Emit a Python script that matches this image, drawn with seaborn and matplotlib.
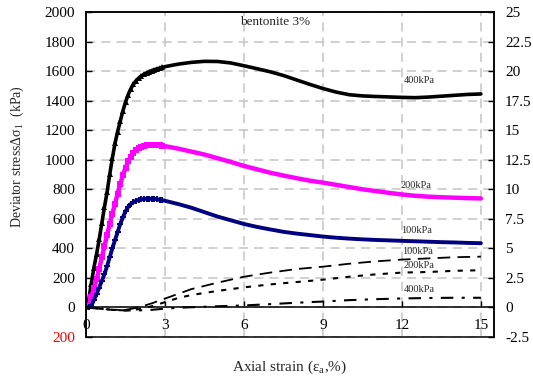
import numpy as np
import pandas as pd
import matplotlib
matplotlib.use("Agg")
import matplotlib.pyplot as plt
from matplotlib.ticker import FixedLocator, FixedFormatter
import seaborn as sns

# ---- deviator stress curves (axial strain %, kPa) ----
strain_q = [0.0, 0.1, 0.2, 0.3, 0.4, 0.5, 0.6, 0.7, 0.8, 0.9,
            1.0, 1.1, 1.2, 1.3, 1.4, 1.5, 1.6, 1.7, 1.8, 1.9,
            2.0, 2.1, 2.2, 2.3, 2.4, 2.5, 2.6, 2.7, 2.8, 2.9,
            3.0, 3.5, 4.0, 4.5, 5.0, 5.5, 6.0, 6.5, 7.0, 7.5,
            8.0, 8.5, 9.0, 9.5, 10.0, 10.5, 11.0, 11.5, 12.0, 12.5,
            13.0, 13.5, 14.0, 14.5, 15.0]
q_400 = [0, 50, 160, 270, 360, 460, 570, 680, 780, 900,
         1010, 1110, 1190, 1260, 1330, 1390, 1440, 1480, 1510, 1535,
         1552, 1566, 1578, 1588, 1596, 1603, 1609, 1615, 1620, 1625,
         1630, 1647, 1659, 1666, 1665, 1655, 1636, 1616, 1595, 1570,
         1540, 1510, 1482, 1458, 1440, 1432, 1428, 1425, 1422, 1420,
         1424, 1430, 1436, 1442, 1445]
q_200 = [0, 10, 70, 130, 190, 260, 340, 415, 490, 565,
         635, 700, 770, 835, 895, 945, 988, 1020, 1045, 1063,
         1077, 1087, 1093, 1097, 1099, 1100, 1100, 1099, 1097, 1095,
         1092, 1075, 1055, 1035, 1010, 985, 958, 935, 912, 893,
         875, 858, 845, 830, 815, 800, 788, 776, 765, 756,
         750, 746, 743, 740, 738]
q_100 = [0, 0, 10, 50, 90, 135, 180, 225, 280, 340,
         400, 455, 510, 565, 610, 650, 680, 700, 713, 722,
         728, 732, 734, 735, 735, 735, 734, 732, 729, 726,
         722, 700, 675, 645, 615, 590, 565, 545, 528, 512,
         500, 490, 480, 472, 466, 461, 457, 454, 451, 448,
         445, 442, 440, 437, 435]
n_marked = 30  # markers on the loading branch

# ---- volumetric strain curves (axial strain %, %) ----
strain_v = [0.0, 0.5, 1.0, 1.5, 2.0, 2.5, 3.0, 3.5, 4.0, 5.0,
            6.0, 7.0, 8.0, 9.0, 10.0, 11.0, 12.0, 13.0, 14.0, 15.0]
v_100 = [0, -0.1, -0.2, -0.2, 0.0, 0.35, 0.75, 1.15, 1.55, 2.1,
         2.6, 2.95, 3.25, 3.45, 3.7, 3.9, 4.05, 4.15, 4.25, 4.3]
v_200 = [0, -0.1, -0.2, -0.25, -0.15, 0.1, 0.45, 0.8, 1.05, 1.4,
         1.7, 1.95, 2.15, 2.35, 2.6, 2.8, 2.95, 3.0, 3.1, 3.15]
v_400 = [0, -0.1, -0.2, -0.25, -0.25, -0.2, -0.1, -0.03, 0.02, 0.1,
         0.17, 0.28, 0.4, 0.5, 0.62, 0.7, 0.76, 0.8, 0.82, 0.82]

x_ticks = [0, 3, 6, 9, 12, 15]
y_ticks = [-200, 0, 200, 400, 600, 800, 1000, 1200, 1400, 1600, 1800, 2000]
y_labels = ["200", "0", "200", "400", "600", "800", "1000", "1200",
            "1400", "1600", "1800", "2000"]
y2_ticks = [-2.5, 0, 2.5, 5, 7.5, 10, 12.5, 15, 17.5, 20, 22.5, 25]
y2_labels = ["-2.5", "0", "2.5", "5", "7.5", "10", "12.5", "15",
             "17.5", "20", "22.5", "25"]

sns.set_theme(style="white")
plt.rcParams["font.family"] = ["Liberation Serif", "DejaVu Serif"]
plt.rcParams["mathtext.fontset"] = "custom"
plt.rcParams["mathtext.rm"] = "Liberation Serif"
plt.rcParams["mathtext.it"] = "Liberation Serif"

fig = plt.figure(figsize=(5.33, 3.77), dpi=100)
ax = fig.add_axes([0.1614, 0.1061, 0.7655, 0.8621])
ax2 = ax.twinx()

dq = pd.DataFrame({"strain": strain_q, "q400": q_400, "q200": q_200, "q100": q_100})
dv = pd.DataFrame({"strain": strain_v, "v100": v_100, "v200": v_200, "v400": v_400})

mk = slice(0, n_marked)
sns.lineplot(data=dq, x="strain", y="q400", ax=ax, color="black", lw=2.6,
             marker="^", markersize=4.5, markeredgewidth=0, markevery=mk,
             estimator=None, sort=False, zorder=5)
sns.lineplot(data=dq, x="strain", y="q200", ax=ax, color="#ff00ff", lw=3.2,
             marker="s", markersize=4.5, markeredgewidth=0, markevery=mk,
             estimator=None, sort=False, zorder=5)
sns.lineplot(data=dq, x="strain", y="q100", ax=ax, color="#000080", lw=2.8,
             marker="P", markersize=4.5, markeredgewidth=0, markevery=mk,
             estimator=None, sort=False, zorder=5)

sns.lineplot(data=dv, x="strain", y="v100", ax=ax2, color="black", lw=1.3,
             linestyle=(0, (7, 4)), estimator=None, sort=False)
sns.lineplot(data=dv, x="strain", y="v200", ax=ax2, color="black", lw=1.5,
             linestyle=(0, (2.5, 3.5)), estimator=None, sort=False)
sns.lineplot(data=dv, x="strain", y="v400", ax=ax2, color="black", lw=1.5,
             linestyle=(0, (6, 4, 1.5, 4)), estimator=None, sort=False)

# axis limits and grid
ax.set_xlim(0, 15.5)
ax.set_ylim(-200, 2000)
ax2.set_ylim(-2.5, 25)

ax.xaxis.set_major_locator(FixedLocator(x_ticks))
ax.yaxis.set_major_locator(FixedLocator(y_ticks))
ax.yaxis.set_major_formatter(FixedFormatter(y_labels))
ax2.yaxis.set_major_locator(FixedLocator(y2_ticks))
ax2.yaxis.set_major_formatter(FixedFormatter(y2_labels))

ax.grid(True, color="#c4c4c4", linestyle=(0, (6, 4)), lw=1.1)
ax.set_axisbelow(True)

# x axis runs along zero stress
ax.spines["bottom"].set_position(("data", 0))
for sp in list(ax.spines.values()) + list(ax2.spines.values()):
    sp.set_color("black")
    sp.set_linewidth(1.1)

ax.tick_params(axis="x", direction="in", length=4, width=1, pad=8,
               labelsize=11, colors="black", bottom=True)
ax.tick_params(axis="y", direction="in", length=4, width=1, pad=8,
               labelsize=11, colors="black", left=True)
ax2.tick_params(axis="y", direction="in", length=4, width=1, pad=8,
                labelsize=11, colors="black", right=True)
ax.get_yticklabels()[0].set_color("red")

ax.set_xlabel("")
ax.set_ylabel("")
ax2.set_ylabel("")
fig.text(290 / 533, 1 - 367 / 377, "Axial strain (ε$_{\\mathrm{a}}$,%)",
         fontsize=11, ha="center", va="center")
fig.text(17 / 533, 1 - 157 / 377, "Deviator stressΔσ$_{\\mathrm{1}}$  (kPa)",
         fontsize=10, ha="center", va="center", rotation=90)

# curve labels
ax.text(7.2, 1935, "bentonite 3%", fontsize=9.5, ha="center", va="center")
for x, y, s in [(12.65, 1534, "400kPa"), (12.55, 828, "200kPa"),
                (12.55, 523, "100kPa"), (12.6, 380, "100kPa"),
                (12.65, 285, "200kPa"), (12.65, 122, "400kPa")]:
    ax.text(x, y, s, fontsize=7.5, ha="center", va="center")

fig.savefig("out.png", dpi=100)
